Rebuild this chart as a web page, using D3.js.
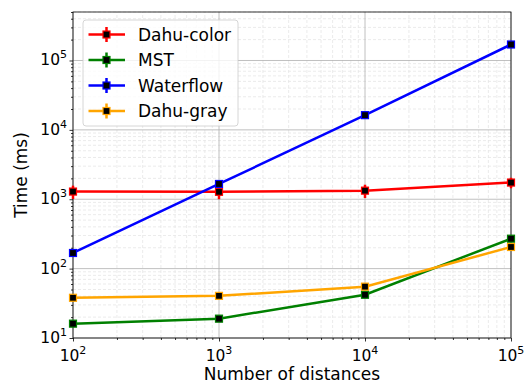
<!DOCTYPE html>
<html>
<head>
<meta charset="utf-8">
<script src="https://cdn.jsdelivr.net/npm/d3@7"></script>
<style>
  body { margin: 0; background: #fff; }
  text { font-family: "DejaVu Sans", sans-serif; fill: #000; }
</style>
</head>
<body>
<svg id="chart" width="531" height="384"></svg>
<script>
// x values (number of distances)
const distances = [1e2, 1e3, 1e4, 1e5];
// series names and colours
const seriesNames = ["Dahu-color", "MST", "Waterflow", "Dahu-gray"];
const seriesColors = ["#ff0000", "#008000", "#0000ff", "#ffa500"];
// times in ms
const dahuColor = [1290, 1280, 1330, 1740];
const mst = [16.1, 19, 42, 270];
const waterflow = [168, 1660, 16300, 170000];
const dahuGray = [38, 40.5, 55, 205];
// error bar half-widths
const dahuColorErr = [280, 280, 290, 300];
const mstErr = [0.3, 0.3, 0.6, 4];
const waterflowErr = [3, 30, 300, 3000];
const dahuGrayErr = [0.6, 0.6, 1, 3];

const xTicks = [1e2, 1e3, 1e4, 1e5];
const yTicks = [1e1, 1e2, 1e3, 1e4, 1e5];

const values = [dahuColor, mst, waterflow, dahuGray];
const errors = [dahuColorErr, mstErr, waterflowErr, dahuGrayErr];
const series = seriesNames.map((name, i) => ({
    name, color: seriesColors[i],
    points: distances.map((x, j) => ({ x, y: values[i][j], e: errors[i][j] }))
}));

const svg = d3.select("#chart");
const margin = { top: 12, right: 20, bottom: 46, left: 73 };
const width = +svg.attr("width");
const height = +svg.attr("height");

const x = d3.scaleLog().domain([1e2, 1e5]).range([margin.left, width - margin.right]);
const y = d3.scaleLog().domain([10, 5e5]).range([height - margin.bottom, margin.top]);

// minor tick values for each decade
function minors(lo, hi) {
    const out = [];
    for (let p = lo; p < hi; p *= 10)
        for (let k = 2; k <= 9; k++) if (p * k <= hi) out.push(p * k);
    return out;
}
const xMinor = minors(1e2, 1e5);
const yMinor = minors(10, 5e5);

// grid: minor dashed, major solid
const grid = svg.append("g");
grid.selectAll(".xm").data(xMinor).enter().append("line")
    .attr("x1", d => x(d)).attr("x2", d => x(d))
    .attr("y1", y.range()[0]).attr("y2", y.range()[1])
    .attr("stroke", "#e6e6e6").attr("stroke-width", 0.8).attr("stroke-dasharray", "3,2");
grid.selectAll(".ym").data(yMinor).enter().append("line")
    .attr("y1", d => y(d)).attr("y2", d => y(d))
    .attr("x1", x.range()[0]).attr("x2", x.range()[1])
    .attr("stroke", "#e6e6e6").attr("stroke-width", 0.8).attr("stroke-dasharray", "3,2");
grid.selectAll(".xM").data(xTicks).enter().append("line")
    .attr("x1", d => x(d)).attr("x2", d => x(d))
    .attr("y1", y.range()[0]).attr("y2", y.range()[1])
    .attr("stroke", "#b0b0b0").attr("stroke-width", 0.8);
grid.selectAll(".yM").data(yTicks).enter().append("line")
    .attr("y1", d => y(d)).attr("y2", d => y(d))
    .attr("x1", x.range()[0]).attr("x2", x.range()[1])
    .attr("stroke", "#b0b0b0").attr("stroke-width", 0.8);

// axes
const xAxis = svg.append("g").attr("transform", `translate(0,${y.range()[0]})`)
    .call(d3.axisBottom(x).tickValues(xTicks).tickSize(3.5).tickFormat(""));
const xAxisMinor = svg.append("g").attr("transform", `translate(0,${y.range()[0]})`)
    .call(d3.axisBottom(x).tickValues(xMinor).tickSize(2).tickFormat(""));
const yAxis = svg.append("g").attr("transform", `translate(${x.range()[0]},0)`)
    .call(d3.axisLeft(y).tickValues(yTicks).tickSize(3.5).tickFormat(""));
const yAxisMinor = svg.append("g").attr("transform", `translate(${x.range()[0]},0)`)
    .call(d3.axisLeft(y).tickValues(yMinor).tickSize(2).tickFormat(""));
[xAxis, xAxisMinor, yAxis, yAxisMinor].forEach(g => {
    g.select(".domain").remove();
    g.selectAll("line").attr("stroke", "#000").attr("stroke-width", 0.8);
});

// tick labels with superscripts
function powLabel(sel, v) {
    const e = Math.round(Math.log10(v));
    sel.append("tspan").text("10");
    sel.append("tspan").attr("font-size", 11).attr("dy", -7).text(e);
}
xTicks.forEach(v => {
    const t = svg.append("text").attr("x", x(v)).attr("y", y.range()[0] + 22.5)
        .attr("text-anchor", "middle").attr("font-size", 15.5);
    powLabel(t, v);
});
yTicks.forEach(v => {
    const t = svg.append("text").attr("x", x.range()[0] - 6).attr("y", y(v) + 5)
        .attr("text-anchor", "end").attr("font-size", 15.5);
    powLabel(t, v);
});

// frame
svg.append("rect")
    .attr("x", x.range()[0]).attr("y", y.range()[1])
    .attr("width", x.range()[1] - x.range()[0]).attr("height", y.range()[0] - y.range()[1])
    .attr("fill", "none").attr("stroke", "#000").attr("stroke-width", 0.8);

// axis titles
svg.append("text").attr("x", (x.range()[0] + x.range()[1]) / 2).attr("y", 380)
    .attr("text-anchor", "middle").attr("font-size", 17).text("Number of distances");
svg.append("text").attr("transform", `translate(26.5,${(y.range()[0] + y.range()[1]) / 2}) rotate(-90)`)
    .attr("text-anchor", "middle").attr("font-size", 17).text("Time (ms)");

// series
const line = d3.line().x(d => x(d.x)).y(d => y(d.y));
const plot = svg.append("g");
series.forEach(s => {
    const g = plot.append("g");
    g.selectAll(".err").data(s.points).enter().append("line")
        .attr("x1", d => x(d.x)).attr("x2", d => x(d.x))
        .attr("y1", d => y(d.y - d.e)).attr("y2", d => y(d.y + d.e))
        .attr("stroke", s.color).attr("stroke-width", 2.5);
    g.append("path").datum(s.points).attr("d", line)
        .attr("fill", "none").attr("stroke", s.color).attr("stroke-width", 2.5);
    g.selectAll(".mk").data(s.points).enter().append("rect")
        .attr("x", d => x(d.x) - 3.5).attr("y", d => y(d.y) - 3.5)
        .attr("width", 7).attr("height", 7)
        .attr("fill", "#000").attr("stroke", s.color).attr("stroke-width", 1.2);
});

// legend
const lg = svg.append("g").attr("transform", "translate(83,20)");
lg.append("rect").attr("width", 155).attr("height", 106).attr("rx", 3)
    .attr("fill", "#fff").attr("fill-opacity", 0.8).attr("stroke", "#ccc").attr("stroke-width", 0.8);
series.forEach((s, i) => {
    const cy = 14.5 + i * 25.5;
    lg.append("line").attr("x1", 5.5).attr("x2", 42).attr("y1", cy).attr("y2", cy)
        .attr("stroke", s.color).attr("stroke-width", 2.5);
    lg.append("line").attr("x1", 23.5).attr("x2", 23.5).attr("y1", cy - 7.5).attr("y2", cy + 7.5)
        .attr("stroke", s.color).attr("stroke-width", 2.5);
    lg.append("rect").attr("x", 20).attr("y", cy - 3.5).attr("width", 7).attr("height", 7)
        .attr("fill", "#000").attr("stroke", s.color).attr("stroke-width", 1.2);
    lg.append("text").attr("x", 55).attr("y", cy + 6).attr("font-size", 17).text(s.name);
});
</script>
</body>
</html>
